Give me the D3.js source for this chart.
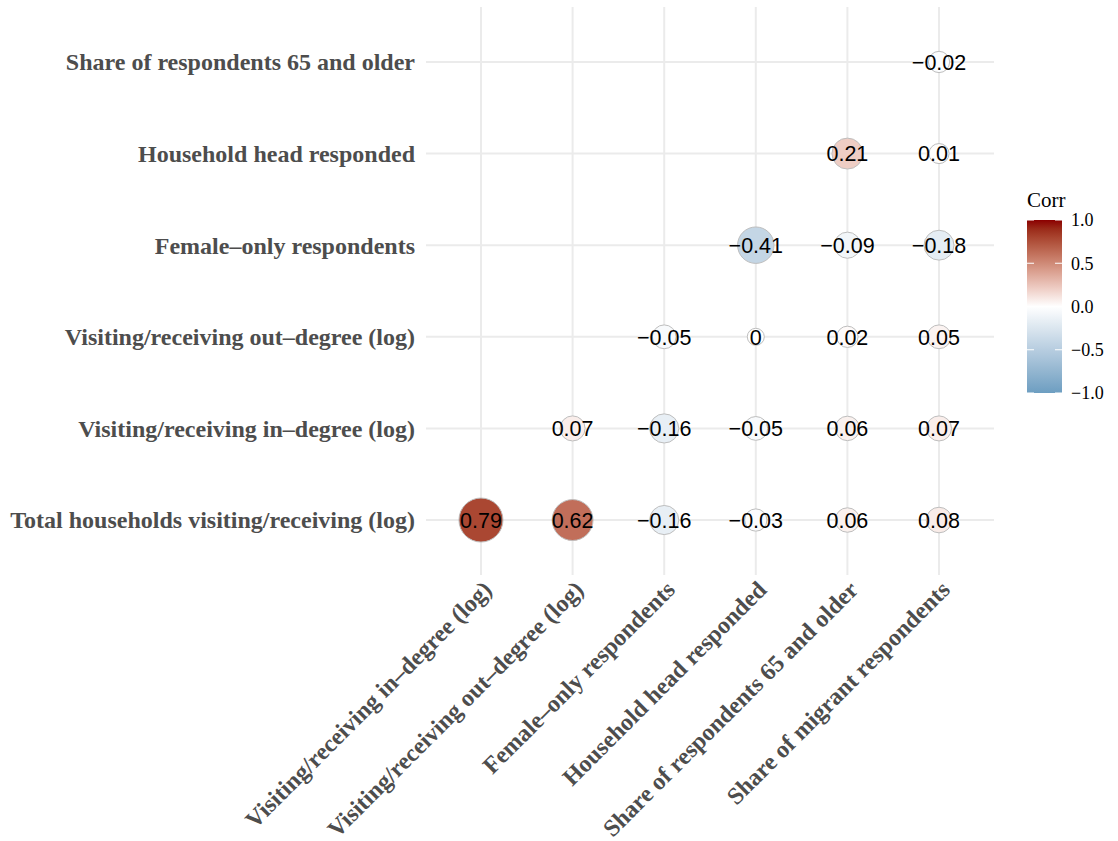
<!DOCTYPE html>
<html>
<head>
<meta charset="utf-8">
<script src="https://cdn.jsdelivr.net/npm/d3@7/dist/d3.min.js"></script>
<style>
  html, body { margin: 0; padding: 0; background: #ffffff; }
  svg { display: block; }
</style>
</head>
<body>
<svg id="chart" width="1118" height="841"></svg>
<script>
// Variables along the horizontal axis (left to right)
const colLabels = [
  "Visiting/receiving in–degree (log)",
  "Visiting/receiving out–degree (log)",
  "Female–only respondents",
  "Household head responded",
  "Share of respondents 65 and older",
  "Share of migrant respondents"
];

// Variables along the vertical axis (bottom to top)
const rowLabels = [
  "Total households visiting/receiving (log)",
  "Visiting/receiving in–degree (log)",
  "Visiting/receiving out–degree (log)",
  "Female–only respondents",
  "Household head responded",
  "Share of respondents 65 and older"
];

// Lower-triangle correlations, one array per row; null = cell not shown
const corrTotal   = [0.79, 0.62, -0.16, -0.03, 0.06, 0.08];
const corrIn      = [null, 0.07, -0.16, -0.05, 0.06, 0.07];
const corrOut     = [null, null, -0.05, 0.00, 0.02, 0.05];
const corrFemale  = [null, null, null, -0.41, -0.09, -0.18];
const corrHead    = [null, null, null, null, 0.21, 0.01];
const corrOlder   = [null, null, null, null, null, -0.02];

const corrRows = [corrTotal, corrIn, corrOut, corrFemale, corrHead, corrOlder];

// Legend breaks
const legendTicks = [1.0, 0.5, 0.0, -0.5, -1.0];

const cells = [];
corrRows.forEach((vals, ri) => {
  vals.forEach((v, ci) => {
    if (v !== null) cells.push({ row: rowLabels[ri], col: colLabels[ci], value: v });
  });
});

const svg = d3.select("#chart");

const panel = { left: 426, right: 994, top: 7, bottom: 575 };

const x = d3.scalePoint().domain(colLabels).range([panel.left, panel.right]).padding(0.6);
const y = d3.scalePoint().domain(rowLabels).range([panel.bottom, panel.top]).padding(0.6);

// Diverging fill, interpolated in Lab space
const lowCol = "#6D9EC1", midCol = "#ffffff", highCol = "#8B0000";
const fill = d3.scaleLinear()
  .domain([-1, 0, 1])
  .range([lowCol, midCol, highCol])
  .interpolate(d3.interpolateLab);

// Point size grows with |r| (area-proportional)
const maxAbs = d3.max(cells, d => Math.abs(d.value));
const sizeScale = d3.scaleSqrt().domain([0, maxAbs]).range([4, 10]);

const fmtNum = v => {
  const s = String(Math.round(v * 100) / 100);
  return s.replace("-", "\u2212");
};

// Grid
const grid = svg.append("g");
grid.selectAll("line.h").data(rowLabels).join("line")
  .attr("x1", panel.left).attr("x2", panel.right)
  .attr("y1", d => y(d)).attr("y2", d => y(d))
  .attr("stroke", "#ebebeb").attr("stroke-width", 2);
grid.selectAll("line.v").data(colLabels).join("line")
  .attr("y1", panel.top).attr("y2", panel.bottom)
  .attr("x1", d => x(d)).attr("x2", d => x(d))
  .attr("stroke", "#ebebeb").attr("stroke-width", 2);

// Y axis labels
svg.append("g").selectAll("text").data(rowLabels).join("text")
  .attr("x", panel.left - 11)
  .attr("y", d => y(d))
  .attr("dy", "0.35em")
  .attr("text-anchor", "end")
  .attr("font-family", "'Liberation Serif', 'Times New Roman', serif")
  .attr("font-weight", "bold")
  .attr("font-size", 24)
  .attr("fill", "#4d4d4d")
  .text(d => d);

// X axis labels, rotated 45 degrees
svg.append("g").selectAll("text").data(colLabels).join("text")
  .attr("transform", d => `translate(${x(d)},${panel.bottom + 4}) rotate(-45)`)
  .attr("dy", "0.72em")
  .attr("text-anchor", "end")
  .attr("font-family", "'Liberation Serif', 'Times New Roman', serif")
  .attr("font-weight", "bold")
  .attr("font-size", 24)
  .attr("fill", "#4d4d4d")
  .text(d => d);

// Circles
const pts = svg.append("g");
pts.selectAll("circle").data(cells).join("circle")
  .attr("cx", d => x(d.col))
  .attr("cy", d => y(d.row))
  .attr("r", d => sizeScale(Math.abs(d.value)) * 2.25 - 0.5)
  .attr("fill", d => fill(d.value))
  .attr("stroke", "#bebebe")
  .attr("stroke-width", 1);

// Value labels
pts.selectAll("text").data(cells).join("text")
  .attr("x", d => x(d.col))
  .attr("y", d => y(d.row))
  .attr("dy", "0.36em")
  .attr("text-anchor", "middle")
  .attr("font-family", "'Liberation Sans', Arial, sans-serif")
  .attr("font-size", 21.5)
  .attr("fill", "#000000")
  .text(d => fmtNum(d.value));

// Colour bar legend
const leg = { x: 1027, w: 35, top: 220, bottom: 393 };
const ly = d3.scaleLinear().domain([-1, 1]).range([leg.bottom, leg.top]);

const defs = svg.append("defs");
const grad = defs.append("linearGradient")
  .attr("id", "corrGrad")
  .attr("x1", 0).attr("y1", 1).attr("x2", 0).attr("y2", 0);
d3.range(0, 21).forEach(i => {
  const v = -1 + i * 0.1;
  grad.append("stop").attr("offset", (i / 20)).attr("stop-color", fill(v));
});

const lg = svg.append("g");
lg.append("text")
  .attr("x", leg.x).attr("y", 207)
  .attr("font-family", "'Liberation Serif', 'Times New Roman', serif")
  .attr("font-size", 21)
  .attr("fill", "#000000")
  .text("Corr");

lg.append("rect")
  .attr("x", leg.x).attr("y", leg.top)
  .attr("width", leg.w).attr("height", leg.bottom - leg.top)
  .attr("fill", "url(#corrGrad)");

legendTicks.forEach(t => {
  lg.append("line")
    .attr("x1", leg.x).attr("x2", leg.x + 7)
    .attr("y1", ly(t)).attr("y2", ly(t))
    .attr("stroke", "#ffffff").attr("stroke-width", 1);
  lg.append("line")
    .attr("x1", leg.x + leg.w - 7).attr("x2", leg.x + leg.w)
    .attr("y1", ly(t)).attr("y2", ly(t))
    .attr("stroke", "#ffffff").attr("stroke-width", 1);
});

lg.selectAll("text.tick").data(legendTicks).join("text")
  .attr("class", "tick")
  .attr("x", leg.x + leg.w + 9)
  .attr("y", d => ly(d))
  .attr("dy", "0.35em")
  .attr("font-family", "'Liberation Serif', 'Times New Roman', serif")
  .attr("font-size", 18)
  .attr("fill", "#000000")
  .text(d => d3.format(".1f")(d).replace("-", "\u2212"));
</script>
</body>
</html>
